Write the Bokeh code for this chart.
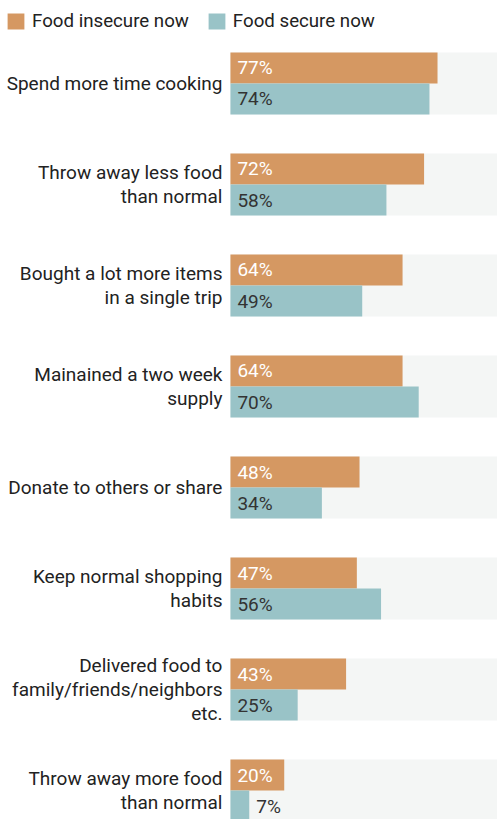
from bokeh.plotting import figure
from bokeh.models import ColumnDataSource, Range1d, Legend, LegendItem
from bokeh.core.properties import value
from bokeh.embed import file_html
from bokeh.resources import INLINE

categories = [
    "Spend more time cooking",
    "Throw away less food\nthan normal",
    "Bought a lot more items\nin a single trip",
    "Mainained a two week\nsupply",
    "Donate to others or share",
    "Keep normal shopping\nhabits",
    "Delivered food to\nfamily/friends/neighbors\netc.",
    "Throw away more food\nthan normal",
]
insecure = [77, 72, 64, 64, 48, 47, 43, 20]
secure = [74, 58, 49, 70, 34, 56, 25, 7]
series_names = ["Food insecure now", "Food secure now"]

ORANGE = "#d59862"
TEAL = "#99c3c7"
BG = "#f4f6f5"
TXT = "#222222"
FONT = value("Roboto")

W, H = 497, 819
n = len(categories)
idx = list(range(n))
bh = 0.307

src = ColumnDataSource(dict(
    idx=idx,
    cat=categories,
    yo=[i - bh / 2 for i in idx],
    yt=[i + bh / 2 for i in idx],
    ins=insecure,
    sec=secure,
    ins_lbl=[f"{v}%" for v in insecure],
    sec_lbl=[f"{v}%" for v in secure],
    ins_x=[0 if v >= 12 else v for v in insecure],
    sec_x=[0 if v >= 12 else v for v in secure],
    ins_col=["white" if v >= 12 else "#333333" for v in insecure],
))

p = figure(width=W, height=H, output_backend="svg", toolbar_location=None,
           x_range=Range1d(-85.5, 99.3), y_range=Range1d(7.287, -0.8217),
           min_border=0, outline_line_color=None)
p.axis.visible = False
p.grid.visible = False
p.background_fill_color = "white"

p.hbar(y="idx", left=0, right=100, height=2 * bh, source=src,
       fill_color=BG, line_color=None)
r1 = p.hbar(y="yo", left=0, right="ins", height=bh, source=src,
            fill_color=ORANGE, line_color=None)
r2 = p.hbar(y="yt", left=0, right="sec", height=bh, source=src,
            fill_color=TEAL, line_color=None)

p.text(x=0, y="idx", text="cat", source=src, x_offset=-8, y_offset=0,
       text_align="right", text_baseline="middle", text_font=FONT,
       text_font_size="19px", text_color=TXT, text_line_height=1.03)
p.text(x="ins_x", y="yo", text="ins_lbl", source=src, x_offset=7, y_offset=0,
       text_align="left", text_baseline="middle", text_font=FONT,
       text_font_size="19px", text_color="ins_col")
p.text(x="sec_x", y="yt", text="sec_lbl", source=src, x_offset=7, y_offset=0,
       text_align="left", text_baseline="middle", text_font=FONT,
       text_font_size="19px", text_color="#333333")

legend = Legend(items=[LegendItem(label=series_names[0], renderers=[r1]),
                       LegendItem(label=series_names[1], renderers=[r2])],
                orientation="horizontal", location=(5, H - 32),
                padding=0, margin=0, spacing=17, label_standoff=6,
                glyph_width=21, glyph_height=20, label_height=20,
                label_text_font="Roboto", label_text_font_size="18.7px",
                label_text_color=TXT, border_line_alpha=0,
                background_fill_alpha=0)
p.add_layout(legend, "center")

open("out.html", "w").write(file_html(p, INLINE))
